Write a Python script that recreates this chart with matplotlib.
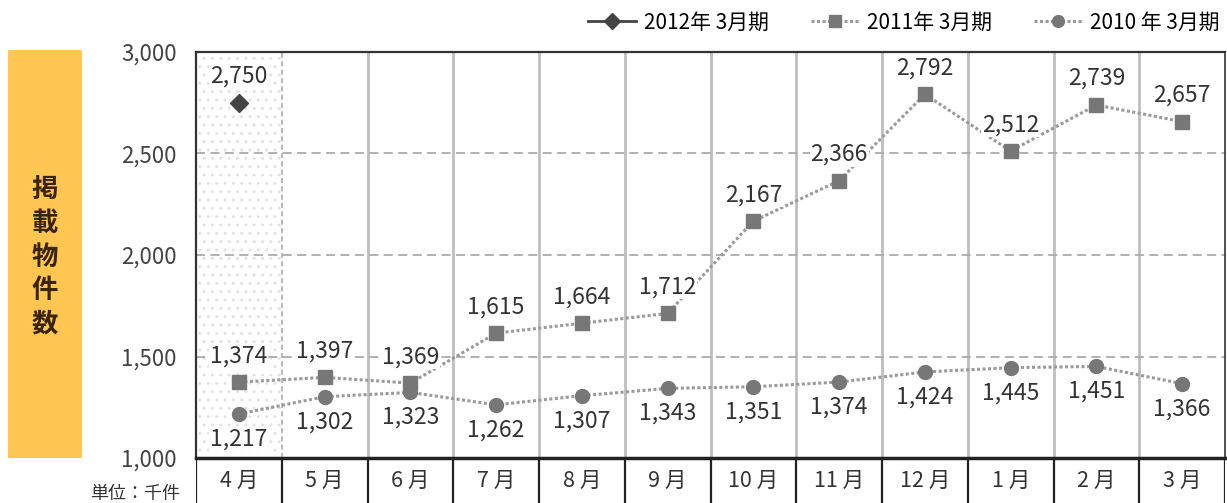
import matplotlib.pyplot as plt
from matplotlib.patches import Rectangle

plt.rcParams['font.family'] = ['Noto Sans CJK JP', 'DejaVu Sans']

months = ['4 月', '5 月', '6 月', '7 月', '8 月', '9 月', '10 月', '11 月', '12 月', '1 月', '2 月', '3 月']
fy2012 = [2750]
fy2011 = [1374, 1397, 1369, 1615, 1664, 1712, 2167, 2366, 2792, 2512, 2739, 2657]
fy2010 = [1217, 1302, 1323, 1262, 1307, 1343, 1351, 1374, 1424, 1445, 1451, 1366]
yticks = [1000, 1500, 2000, 2500, 3000]

W, H = 1227, 503
fig = plt.figure(figsize=(W / 100, H / 100), dpi=100)

x0, x1 = 196, 1225
ytop, ybot = 52, 458
ax = fig.add_axes([x0 / W, (H - ybot) / H, (x1 - x0) / W, (ybot - ytop) / H])
ax.set_xlim(0, 12)
ax.set_ylim(1000, 3000)

# hatched first column
ax.add_patch(Rectangle((0, 1000), 1, 2000, facecolor='white', edgecolor='#e2e2e2',
                       hatch='..', lw=0, zorder=0))
for i in range(1, 12):
    if i == 1:
        ax.axvline(i, color='#aaaaaa', lw=1.2, ls=(0, (3, 2)), zorder=1)
    else:
        ax.axvline(i, color='#bdbdbd', lw=2, zorder=1)
for v in [1500, 2000, 2500]:
    ax.axhline(v, color='#aaaaaa', lw=1.3, ls=(0, (5, 3)), zorder=1)

xs = [i + 0.5 for i in range(12)]
ax.plot(xs[:1], fy2012, color='#444444', lw=2, marker='D', ms=9, zorder=4,
        label='2012年 3月期')
ax.plot(xs, fy2011, color='#9a9a9a', lw=2.2, ls=(0, (1, 0.8)), marker='s', ms=10,
        mfc='#777777', mec='#777777', zorder=3, label='2011年 3月期')
ax.plot(xs, fy2010, color='#9a9a9a', lw=2.2, ls=(0, (1, 0.8)), marker='o', ms=10,
        mfc='#777777', mec='#777777', zorder=3, label='2010 年 3月期')

box = dict(facecolor='white', edgecolor='none', pad=0.5)
lab = dict(fontsize=16.5, color='#333333', ha='center', va='center', zorder=5)
ax.annotate(f'{fy2012[0]:,}', (xs[0], fy2012[0]), xytext=(0, 19),
            textcoords='offset points', bbox=box, **lab)
for x, v in zip(xs, fy2011):
    ax.annotate(f'{v:,}', (x, v), xytext=(0, 19), textcoords='offset points', bbox=box, **lab)
for x, v in zip(xs, fy2010):
    ax.annotate(f'{v:,}', (x, v), xytext=(0, -18), textcoords='offset points', bbox=box, **lab)

ax.set_xticks([])
ax.set_yticks(yticks)
ax.set_yticklabels([f'{v:,}' for v in yticks], fontsize=16, color='#444444')
ax.tick_params(axis='y', length=0, pad=14)
for s in ['left', 'top']:
    ax.spines[s].set_color('#333333')
    ax.spines[s].set_linewidth(1.6)
ax.spines['right'].set_color('#333333')
ax.spines['right'].set_linewidth(1.2)
ax.spines['bottom'].set_visible(False)

ax.legend(loc='lower right', bbox_to_anchor=(1.003, 1.025), ncol=3, frameon=False,
          fontsize=15, handlelength=2.3, handletextpad=0.4, columnspacing=2.0,
          borderaxespad=0, markerscale=0.85)

# month label row
axm = fig.add_axes([x0 / W, -0.01, (x1 - x0) / W, (H - ybot) / H + 0.01])
axm.set_xlim(0, 12)
axm.set_ylim(0, 1)
axm.axis('off')
axm.axhline(1, color='#222222', lw=2.5, clip_on=False)
for i in range(13):
    axm.axvline(i, color='#222222', lw=1.6)
for x, m in zip(xs, months):
    axm.text(x, 0.55, m, ha='center', va='center', fontsize=15.5, color='#333333')

# side label
fig.add_artist(Rectangle((8 / W, (H - 458) / H), 74 / W, 408 / H, transform=fig.transFigure,
                         facecolor='#ffc652', edgecolor='none'))
fig.text(45 / W, (H - 257) / H, '掲\n載\n物\n件\n数', ha='center', va='center',
         fontsize=19, color='#3a2408', fontweight='bold', linespacing=1.3)
fig.text(180 / W, (H - 494) / H, '単位：千件', ha='right', va='center', fontsize=13,
         color='#333333')

fig.savefig('out.png', dpi=100)
